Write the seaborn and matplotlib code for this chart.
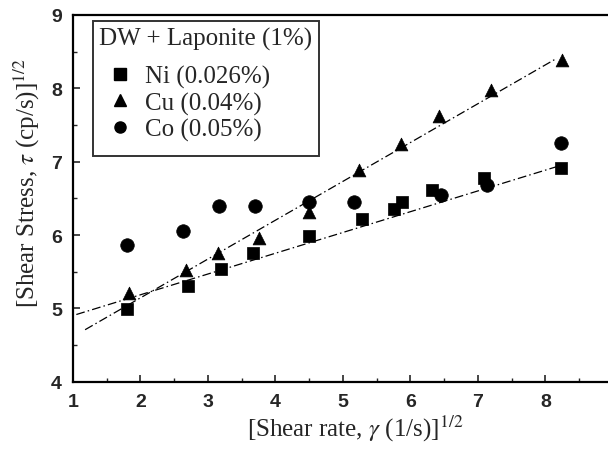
import numpy as np
import pandas as pd
import matplotlib
matplotlib.use("Agg")
import matplotlib.pyplot as plt
from matplotlib.ticker import MultipleLocator
from matplotlib.lines import Line2D
import seaborn as sns

# Square-root shear rate and shear stress for DW + Laponite (1%) with nanoparticles
ni_x = [1.80, 2.70, 3.20, 3.67, 4.50, 5.28, 5.76, 5.88, 6.32, 7.09, 8.23]
ni_y = [4.99, 5.30, 5.54, 5.75, 5.99, 6.22, 6.36, 6.45, 6.62, 6.78, 6.92]

cu_x = [1.83, 2.68, 3.15, 3.76, 4.50, 5.24, 5.86, 6.42, 7.19, 8.24]
cu_y = [5.21, 5.52, 5.75, 5.96, 6.31, 6.88, 7.24, 7.62, 7.97, 8.38]

co_x = [1.80, 2.63, 3.17, 3.70, 4.50, 5.17, 6.45, 7.13, 8.23]
co_y = [5.87, 6.05, 6.40, 6.40, 6.45, 6.45, 6.55, 6.68, 7.25]

# Linear trend lines (slope, intercept) and the x-range each one spans
ni_fit = [0.283, 4.62]
cu_fit = [0.529, 4.086]
ni_fit_range = [1.05, 8.2]
cu_fit_range = [1.18, 8.16]

series_labels = ["Ni (0.026%)", "Cu (0.04%)", "Co (0.05%)"]
legend_title = "DW + Laponite (1%)"

x_ticks = [1, 2, 3, 4, 5, 6, 7, 8, 9]
y_ticks = [4, 5, 6, 7, 8, 9]

sns.set_style("ticks")
plt.rcParams["font.family"] = ["Liberation Serif", "DejaVu Serif"]
plt.rcParams["mathtext.fontset"] = "stix"

fig = plt.figure(figsize=(6.08, 4.52), dpi=100)
ax = fig.add_axes([0.120, 0.153, 0.888, 0.812])

for (k, b), (x0, x1) in [(ni_fit, ni_fit_range), (cu_fit, cu_fit_range)]:
    fx = np.linspace(x0, x1, 50)
    sns.lineplot(x=fx, y=k * fx + b, ax=ax, color="black", lw=0.9,
                 linestyle=(0, (7, 2.5, 1.2, 2.5)), legend=False)

sns.scatterplot(x=ni_x, y=ni_y, ax=ax, marker="s", s=80, color="black",
                edgecolor="black", linewidth=0.5, zorder=3)
sns.scatterplot(x=cu_x, y=cu_y, ax=ax, marker="^", s=85, color="black",
                edgecolor="black", linewidth=0.5, zorder=3)
sns.scatterplot(x=co_x, y=co_y, ax=ax, marker="o", s=95, color="black",
                edgecolor="black", linewidth=0.5, zorder=3)

ax.set_xlim(1, 9)
ax.set_ylim(4, 9)
ax.set_xticks(x_ticks)
ax.set_yticks(y_ticks)
ax.xaxis.set_minor_locator(MultipleLocator(0.5))
ax.yaxis.set_minor_locator(MultipleLocator(0.5))
ax.tick_params(which="major", direction="in", length=5, width=1.2,
               labelsize=14, pad=8)
ax.tick_params(which="minor", direction="in", length=3, width=1)
for lab in ax.get_xticklabels() + ax.get_yticklabels():
    lab.set_family(["Liberation Sans", "DejaVu Sans"])
    lab.set_fontweight("bold")

for side in ["left", "bottom", "top", "right"]:
    ax.spines[side].set_linewidth(1.6)
    ax.spines[side].set_color("black")

ax.set_xlabel(r"[Shear rate, $\gamma$ (1/s)]$^{1/2}$", fontsize=18)
ax.set_ylabel(r"[Shear Stress, $\tau$ (cp/s)]$^{1/2}$", fontsize=18)
ax.xaxis.set_label_coords(0.522, -0.085)
ax.yaxis.set_label_coords(-0.058, 0.544)

handles = [
    Line2D([], [], marker="s", color="black", ls="none", markersize=8),
    Line2D([], [], marker="^", color="black", ls="none", markersize=8),
    Line2D([], [], marker="o", color="black", ls="none", markersize=8),
]
leg = ax.legend(handles, series_labels, title=legend_title, loc="upper left",
                bbox_to_anchor=(0.037, 0.984), borderaxespad=0,
                fontsize=18, title_fontsize=18,
                frameon=True, fancybox=False, edgecolor="black",
                handlelength=1.0, handletextpad=0.5, borderpad=0.25,
                labelspacing=0.15, alignment="left")
leg.get_frame().set_linewidth(1.4)
# indent the entries under the title and leave a little room below it
leg._legend_handle_box.pad = 6
leg._legend_box.sep = 4.5

fig.savefig("out.png", dpi=100)
